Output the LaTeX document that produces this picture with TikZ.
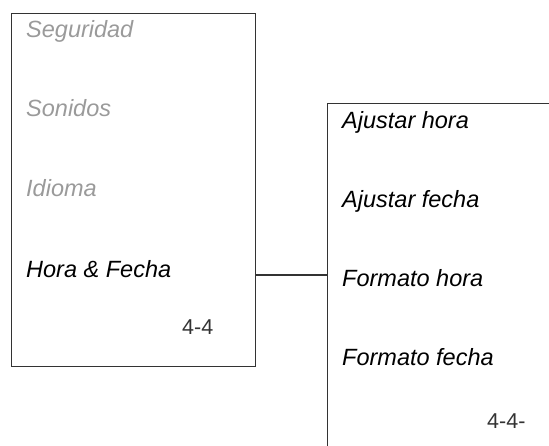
\documentclass[tikz,border=0pt]{standalone}
\usepackage{fontspec}
\setmainfont{Liberation Sans}
\usetikzlibrary{positioning}

\definecolor{menugray}{HTML}{9A9A9A}
\definecolor{framegray}{HTML}{333333}

\tikzset{
  menubox/.style={draw=framegray, line width=1.2pt, inner sep=0pt, anchor=north west},
  item/.style={anchor=base west, inner sep=0pt, font=\fontsize{23.5}{28}\selectfont\itshape},
  offitem/.style={item, text=menugray},
  pageref/.style={anchor=base west, inner sep=0pt, font=\fontsize{21.5}{26}\selectfont, text=framegray},
}

\begin{document}
\begin{tikzpicture}[x=1pt, y=-1pt]

  %% ==== frames ====
  \node[menubox, minimum width=244pt, minimum height=353pt] (menu) at (11,13) {};
  % right frame runs off the page on the right and at the bottom
  \node[menubox, minimum width=240pt, minimum height=360pt] (submenu) at (327,103) {};

  %% ==== left menu ====
  \node[offitem] (seg) at (26,38) {Seguridad};
  \node[offitem] (son) at (26,117) {Sonidos};
  \node[offitem] (idi) at (26,197) {Idioma};
  \node[item] (hora) at (26,278) {Hora \& Fecha};
  \node[pageref] (pg1) at (182,335) {4-4};

  %% ==== right menu ====
  \node[item] (ahora) at (342,129) {Ajustar hora};
  \node[item] (afecha) at (342,208) {Ajustar fecha};
  \node[item] (fhora) at (342,287) {Formato hora};
  \node[item] (ffecha) at (342,366) {Formato fecha};
  \node[pageref] (pg2) at (487,428) {4-4-};

  %% ==== connector ====
  \coordinate (jl) at (menu.east |- 0,275);
  \coordinate (jr) at (submenu.west |- 0,275);
  \draw[framegray, line width=1.2pt] (jl) -- (jr);

  \pgfresetboundingbox
  \path[use as bounding box] (0,0) rectangle (549,446);
\end{tikzpicture}
\end{document}
